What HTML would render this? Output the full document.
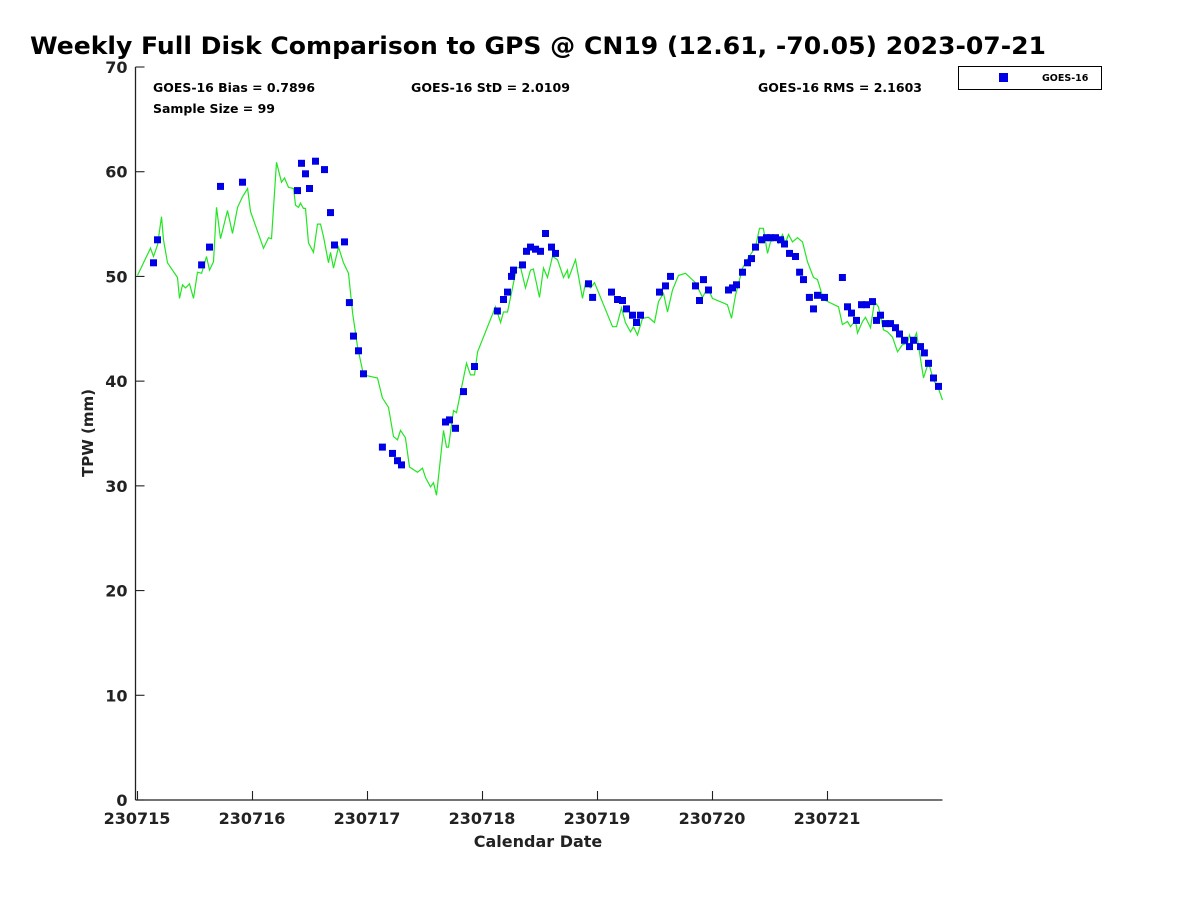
<!DOCTYPE html>
<html><head><meta charset="utf-8"><style>
html,body{margin:0;padding:0;background:#fff;}
svg{display:block;font-family:"DejaVu Sans","Liberation Sans",sans-serif;}
</style></head><body>
<svg id="chart" width="1200" height="900" viewBox="0 0 1200 900" xmlns="http://www.w3.org/2000/svg">
<rect width="1200" height="900" fill="#fff"/>
<text x="30" y="54" font-size="24" font-weight="bold" fill="#000" textLength="1016" lengthAdjust="spacingAndGlyphs">Weekly Full Disk Comparison to GPS @ CN19 (12.61, -70.05) 2023-07-21</text>
<text x="153" y="92" font-size="12" font-weight="bold" textLength="162" lengthAdjust="spacingAndGlyphs">GOES-16 Bias = 0.7896</text>
<text x="411" y="92" font-size="12" font-weight="bold" textLength="159" lengthAdjust="spacingAndGlyphs">GOES-16 StD = 2.0109</text>
<text x="758" y="92" font-size="12" font-weight="bold" textLength="164" lengthAdjust="spacingAndGlyphs">GOES-16 RMS = 2.1603</text>
<text x="153" y="113" font-size="12" font-weight="bold" textLength="122" lengthAdjust="spacingAndGlyphs">Sample Size = 99</text>
<g>
<rect x="958.5" y="66.5" width="143" height="23" fill="#fff" stroke="#000" stroke-width="1"/>
<rect x="999" y="73" width="9" height="9" fill="#0000e6"/>
<text x="1042" y="81" font-size="9.5" font-weight="bold">GOES-16</text>
</g>
<g id="axes"></g>
<g id="plot"></g>
<text transform="translate(93,433) rotate(-90)" text-anchor="middle" font-size="15" font-weight="bold" fill="#222">TPW (mm)</text>
<text x="538" y="847" text-anchor="middle" font-size="16" font-weight="bold" fill="#222">Calendar Date</text>
</svg>
<script>
const xTickLabels = ["230715","230716","230717","230718","230719","230720","230721"];
const yTickValues = [0,10,20,30,40,50,60,70];
const gpsDays = [0.0,0.113,0.139,0.174,0.209,0.226,0.261,0.348,0.365,0.391,0.417,0.452,0.487,0.522,0.557,0.6,0.626,0.661,0.687,0.722,0.783,0.826,0.870,0.913,0.957,0.983,1.096,1.139,1.165,1.209,1.252,1.278,1.313,1.357,1.374,1.4,1.417,1.443,1.461,1.487,1.530,1.565,1.591,1.617,1.661,1.678,1.704,1.748,1.791,1.835,1.870,1.913,1.965,2.087,2.130,2.183,2.226,2.261,2.287,2.330,2.365,2.435,2.478,2.504,2.548,2.574,2.6,2.661,2.687,2.704,2.748,2.774,2.809,2.861,2.896,2.930,2.957,3.113,3.157,3.183,3.217,3.261,3.296,3.330,3.374,3.417,3.443,3.496,3.530,3.565,3.609,3.652,3.704,3.739,3.748,3.809,3.870,3.896,3.939,3.974,4.130,4.165,4.209,4.243,4.287,4.313,4.348,4.391,4.443,4.496,4.530,4.574,4.609,4.652,4.704,4.765,4.852,4.913,4.957,5.0,5.130,5.165,5.2,5.261,5.313,5.374,5.409,5.443,5.478,5.504,5.548,5.574,5.609,5.635,5.661,5.696,5.739,5.783,5.826,5.878,5.913,5.965,6.096,6.130,6.174,6.2,6.243,6.261,6.304,6.330,6.374,6.409,6.443,6.487,6.522,6.565,6.609,6.652,6.696,6.713,6.739,6.774,6.835,6.878,6.922,6.965,7.0];
const gpsTpw = [50.1,52.7,51.9,53.0,55.7,53.5,51.3,49.9,47.9,49.2,48.9,49.3,47.9,50.4,50.3,51.9,50.6,51.4,56.6,53.6,56.3,54.1,56.6,57.6,58.4,56.2,52.7,53.7,53.6,60.9,59.0,59.4,58.5,58.4,56.8,56.6,57.0,56.5,56.5,53.2,52.3,55.0,55.0,53.8,51.3,52.3,50.8,52.8,51.3,50.3,46.5,43.3,40.6,40.3,38.4,37.5,34.7,34.4,35.3,34.6,31.8,31.3,31.7,30.8,29.9,30.3,29.1,35.3,33.7,33.7,37.2,37.0,38.9,41.7,40.6,40.6,42.8,47.1,45.6,46.6,46.6,48.9,50.8,50.9,48.9,50.6,50.7,48.0,50.8,49.9,51.9,51.6,49.9,50.6,49.8,51.6,47.9,49.4,48.9,49.4,45.2,45.2,47.0,45.6,44.7,45.2,44.4,46.0,46.1,45.6,47.6,48.4,46.6,48.7,50.1,50.3,49.4,48.0,48.9,47.9,47.3,46.0,48.2,50.8,51.8,52.8,54.6,54.6,52.2,53.3,53.7,53.2,54.0,53.2,54.0,53.3,53.7,53.3,51.4,49.9,49.7,47.8,47.1,45.4,45.7,45.2,45.8,44.6,45.7,46.1,45.1,47.6,47.1,44.9,44.7,44.2,42.8,43.5,43.6,44.4,43.7,44.6,40.3,41.8,40.1,39.3,38.2];
const goesDays = [0.139,0.174,0.557,0.626,0.722,0.913,1.391,1.426,1.461,1.496,1.548,1.626,1.678,1.713,1.8,1.843,1.878,1.922,1.965,2.130,2.217,2.261,2.296,2.678,2.713,2.765,2.835,2.930,3.130,3.183,3.217,3.252,3.270,3.348,3.383,3.417,3.461,3.504,3.548,3.6,3.635,3.922,3.957,4.122,4.174,4.217,4.252,4.304,4.339,4.374,4.539,4.591,4.635,4.852,4.887,4.922,4.965,5.139,5.174,5.209,5.261,5.304,5.339,5.374,5.426,5.470,5.504,5.548,5.591,5.626,5.670,5.722,5.757,5.791,5.843,5.878,5.913,5.974,6.130,6.174,6.209,6.252,6.296,6.339,6.391,6.426,6.461,6.504,6.548,6.591,6.626,6.670,6.713,6.748,6.809,6.843,6.878,6.922,6.965];
const goesTpw = [51.3,53.5,51.1,52.8,58.6,59.0,58.2,60.8,59.8,58.4,61.0,60.2,56.1,53.0,53.3,47.5,44.3,42.9,40.7,33.7,33.1,32.4,32.0,36.1,36.3,35.5,39.0,41.4,46.7,47.8,48.5,50.0,50.6,51.1,52.4,52.8,52.6,52.4,54.1,52.8,52.2,49.3,48.0,48.5,47.8,47.7,46.9,46.3,45.6,46.3,48.5,49.1,50.0,49.1,47.7,49.7,48.7,48.7,48.9,49.2,50.4,51.3,51.7,52.8,53.5,53.7,53.7,53.7,53.5,53.1,52.2,51.9,50.4,49.7,48.0,46.9,48.2,48.0,49.9,47.1,46.5,45.8,47.3,47.3,47.6,45.8,46.3,45.5,45.5,45.1,44.5,43.9,43.3,43.9,43.3,42.7,41.7,40.3,39.5];

const X0=137.5, XPD=115, Y0=800, YMAX=70, YTOP=67, AXX=135.5;
function xs(d){return X0+d*XPD;}
function ys(v){return Y0-(v/YMAX)*(Y0-YTOP);}
const NS="http://www.w3.org/2000/svg";
function mk(tag,parent){const e=document.createElementNS(NS,tag);parent.appendChild(e);return e;}
const axes=document.getElementById('axes');
const plot=document.getElementById('plot');

const yl=mk('line',axes);


yl.setAttribute('x1',AXX);yl.setAttribute('x2',AXX);yl.setAttribute('y1',YTOP);yl.setAttribute('y2',Y0);
yl.setAttribute('stroke','#222');yl.setAttribute('stroke-width','1.3');
const xl=mk('line',axes);


xl.setAttribute('x1',AXX);xl.setAttribute('x2',xs(7));xl.setAttribute('y1',Y0);xl.setAttribute('y2',Y0);
xl.setAttribute('stroke','#222');xl.setAttribute('stroke-width','1.3');

yTickValues.forEach(v=>{
  const t=mk('line',axes);
  
  
  t.setAttribute('x1',AXX);t.setAttribute('x2',AXX+9);t.setAttribute('y1',ys(v));t.setAttribute('y2',ys(v));
  t.setAttribute('stroke','#222');t.setAttribute('stroke-width','1.1');
  const l=mk('text',axes);
  
  
  l.setAttribute('x',AXX-8);l.setAttribute('y',ys(v)+6);l.setAttribute('text-anchor','end');
  l.setAttribute('font-size','16');l.setAttribute('font-weight','bold');l.setAttribute('fill','#222');
  l.textContent=v;
});
xTickLabels.forEach((s,i)=>{
  const t=mk('line',axes);
  
  
  t.setAttribute('x1',xs(i));t.setAttribute('x2',xs(i));t.setAttribute('y1',Y0);t.setAttribute('y2',Y0-9);
  t.setAttribute('stroke','#222');t.setAttribute('stroke-width','1.1');
  const l=mk('text',axes);
  
  
  l.setAttribute('x',xs(i)-0.5);l.setAttribute('y',Y0+24);l.setAttribute('text-anchor','middle');
  l.setAttribute('font-size','16');l.setAttribute('font-weight','bold');l.setAttribute('fill','#222');
  l.textContent=s;
});

const line=mk('polyline',plot);


line.setAttribute('points',gpsDays.map((d,i)=>xs(d).toFixed(1)+','+ys(gpsTpw[i]).toFixed(1)).join(' '));
line.setAttribute('fill','none');line.setAttribute('stroke','#22e622');line.setAttribute('stroke-width','1.2');

goesDays.forEach((d,i)=>{
  const r=mk('rect',plot);
  
  
  r.setAttribute('x',(xs(d)-3.5).toFixed(1));r.setAttribute('y',(ys(goesTpw[i])-3.5).toFixed(1));
  r.setAttribute('width','7');r.setAttribute('height','7');r.setAttribute('fill','#0000e6');
});
</script>
</body></html>
